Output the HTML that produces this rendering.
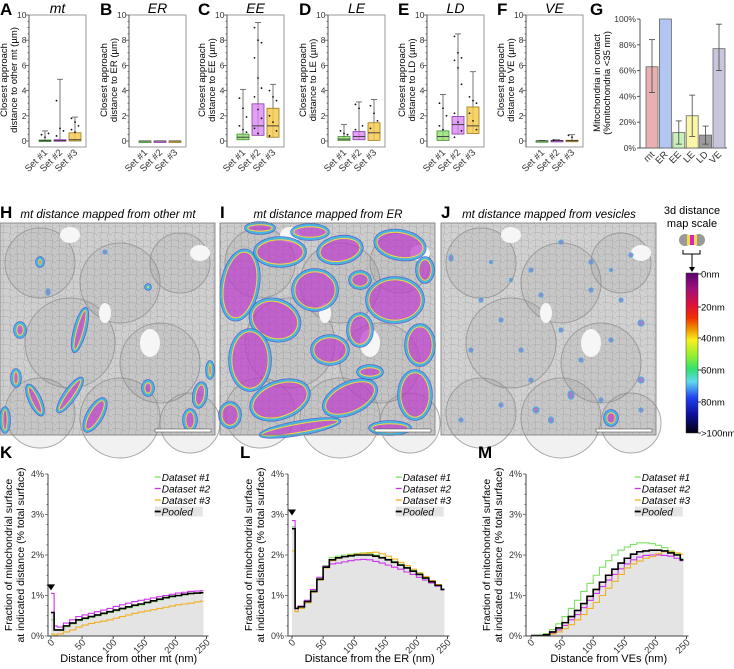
<!DOCTYPE html>
<html><head><meta charset="utf-8"><style>
html,body{margin:0;padding:0;background:#fff;}
svg{display:block;font-family:"Liberation Sans",Arial,sans-serif;}
</style></head><body>
<svg id="fig" width="734" height="669" viewBox="0 0 734 669" xmlns="http://www.w3.org/2000/svg">
<defs>
<linearGradient id="cbar" x1="0" y1="0" x2="0" y2="1">
<stop offset="0" stop-color="#5a0070"/><stop offset="0.1" stop-color="#a0107a"/><stop offset="0.2" stop-color="#e0103a"/><stop offset="0.28" stop-color="#f03000"/><stop offset="0.36" stop-color="#f0a000"/><stop offset="0.42" stop-color="#f8f020"/><stop offset="0.52" stop-color="#90f030"/><stop offset="0.6" stop-color="#30e070"/><stop offset="0.68" stop-color="#60d8f0"/><stop offset="0.78" stop-color="#2040f0"/><stop offset="0.88" stop-color="#1010a0"/><stop offset="1" stop-color="#000010"/>
</linearGradient>
<pattern id="tex" width="14" height="14" patternUnits="userSpaceOnUse">
<rect width="14" height="14" fill="#c8c8c8"/><path d="M0 3 Q7 0 14 5 M0 9 Q6 7 14 11 M3 0 Q5 7 2 14 M10 0 Q12 7 9 14" stroke="#9c9c9c" stroke-width="0.5" fill="none"/>
</pattern>
</defs>
<g id="top-row"></g>
<g id="mid-row"></g>
<g id="bot-row"></g>
</svg>
<script>
// ---------- DATA: box plots (q1, median, q3, max) ----------
const boxSets = ["Set #1","Set #2","Set #3"];
const mtBox = [[0,0.02,0.08,0.8],[0,0.03,0.1,4.9],[0,0.1,0.65,1.9]];
const mtPts = [[0.5,0.3,0.6],[3.2,1.0,0.8,0.4],[1.8,1.5,1.2,0.9,0.7]];
const erBox = [[0,0,0,0],[0,0,0,0],[0,0,0,0]];
const erPts = [[],[],[]];
const eeBox = [[0.1,0.3,0.55,4.1],[0.45,1.2,2.95,9.4],[0.3,1.2,2.6,4.5]];
const eePts = [[3.4,2.6,1.9,1.2,0.9,0.7],[9.0,8.0,7.8,6.6,5.0,4.2,3.5,2.5,1.8,1.0,0.6],[4.0,3.5,3.2,2.0,1.5,0.8,0.4]];
const leBox = [[0.05,0.15,0.35,1.3],[0.1,0.35,0.75,3.1],[0.05,0.65,1.45,3.3]];
const lePts = [[0.8,0.6,0.5],[2.9,2.6,1.2,0.9],[2.8,2.2,1.6,1.0]];
const ldBox = [[0.05,0.35,0.8,3.7],[0.55,1.3,1.95,8.5],[0.6,1.2,2.7,5.5]];
const ldPts = [[3.0,2.6,2.0,1.2,0.9],[8.3,7.0,6.6,6.4,5.8,4.5,2.2,1.5,0.8,0.3],[3.5,3.2,3.0,2.2,1.6,0.9]];
const veBox = [[0,0.01,0.02,0.05],[0,0.02,0.05,0.1],[0,0.02,0.06,0.5]];
const vePts = [[],[0.08],[0.45,0.3]];
const boxTicks = [0,2,4,6,8,10];
// ---------- DATA: bar chart G ----------
const gCats = ["mt","ER","EE","LE","LD","VE"];
const gVals = [63,100,12,25,10,77];
const gLo = [43,100,3,9,3,60];
const gHi = [84,100,21,41,17,96];
const gTicks = [0,20,40,60,80,100];
// ---------- DATA: histograms ----------
const binX = [0,5,10,20,30,40,50,60,70,80,90,100,110,120,130,140,150,160,170,180,190,200,210,220,230,240];
const kPooled=[0.58,0.15,0.15,0.25,0.32,0.40,0.44,0.48,0.52,0.56,0.60,0.64,0.68,0.72,0.76,0.79,0.83,0.87,0.91,0.95,0.98,1.0,1.03,1.05,1.06,1.07];
const kD1=[0.40,0.14,0.14,0.23,0.30,0.38,0.42,0.46,0.50,0.54,0.58,0.62,0.66,0.70,0.74,0.77,0.81,0.85,0.89,0.93,0.96,0.99,1.02,1.04,1.05,1.06];
const kD2=[1.05,0.25,0.22,0.32,0.40,0.48,0.52,0.56,0.60,0.64,0.68,0.73,0.77,0.81,0.85,0.88,0.91,0.94,0.97,1.0,1.03,1.06,1.08,1.1,1.11,1.12];
const kD3=[0.05,0.02,0.05,0.1,0.15,0.22,0.27,0.31,0.34,0.37,0.40,0.44,0.48,0.52,0.56,0.59,0.62,0.65,0.68,0.71,0.74,0.77,0.79,0.81,0.84,0.86];
const lPooled=[2.65,0.68,0.72,0.85,1.1,1.4,1.7,1.88,1.93,1.96,1.98,2.0,2.0,2.0,1.97,1.93,1.88,1.82,1.75,1.68,1.6,1.52,1.43,1.34,1.25,1.15];
const lD1=[2.7,0.68,0.74,0.86,1.12,1.42,1.74,1.93,1.97,2.0,2.02,2.04,2.05,2.04,2.0,1.95,1.9,1.84,1.77,1.7,1.62,1.54,1.45,1.36,1.26,1.16];
const lD2=[2.85,0.68,0.74,0.88,1.15,1.45,1.72,1.78,1.80,1.83,1.86,1.88,1.89,1.88,1.84,1.80,1.75,1.70,1.65,1.58,1.52,1.45,1.38,1.31,1.23,1.14];
const lD3=[2.1,0.6,0.68,0.82,1.08,1.38,1.68,1.86,1.92,1.96,2.0,2.02,2.04,2.06,2.07,2.03,1.97,1.9,1.82,1.74,1.65,1.56,1.47,1.37,1.27,1.15];
const mPooled=[0.01,0.01,0.01,0.03,0.1,0.2,0.33,0.48,0.63,0.8,0.98,1.15,1.33,1.5,1.65,1.8,1.92,2.02,2.08,2.1,2.12,2.12,2.1,2.05,2.0,1.88];
const mD1=[0.01,0.01,0.02,0.06,0.16,0.3,0.48,0.68,0.88,1.1,1.3,1.5,1.7,1.86,2.0,2.12,2.2,2.26,2.3,2.3,2.28,2.24,2.18,2.1,2.02,1.92];
const mD2=[0,0,0.01,0.02,0.07,0.15,0.26,0.4,0.53,0.7,0.88,1.05,1.22,1.38,1.52,1.66,1.78,1.88,1.95,1.99,2.0,2.0,1.99,1.97,1.92,1.86];
const mD3=[0,0,0,0.02,0.05,0.1,0.18,0.28,0.4,0.53,0.68,0.83,1.0,1.18,1.35,1.52,1.68,1.78,1.85,1.92,1.96,2.03,2.08,2.08,2.05,2.02];
const histXTicks=[0,50,100,150,200,250];
const histYTicks=[0,1,2,3,4];
const dsNames=["Dataset #1","Dataset #2","Dataset #3","Pooled"];

const NS="http://www.w3.org/2000/svg";
function mk(parent,tag,attrs,text){const e=document.createElementNS(NS,tag);for(const k in attrs)e.setAttribute(k,attrs[k]);if(text!==undefined)e.textContent=text;parent.appendChild(e);return e;}
const gTop=document.getElementById('top-row'),gMid=document.getElementById('mid-row'),gBot=document.getElementById('bot-row');
const setCols=[{f:"rgba(140,220,100,0.75)",s:"#3f8f2a"},{f:"rgba(215,130,240,0.75)",s:"#8a3aa8"},{f:"rgba(245,200,70,0.8)",s:"#9a7a18"}];

function boxPanel(letter,title,ax,box,pts,ylab2){
  const g=mk(gTop,'g',{});
  
  
  const y0=141,y1=15,w=57;
  const ys=v=>y0-(v/10)*(y0-y1);
  const L=mk(g,'text',{x:ax-29,y:15,'font-size':17,'font-weight':'bold'},letter);
  
  const T=mk(g,'text',{x:ax+w/2,y:13,'font-size':14,'font-style':'italic','text-anchor':'middle'},title);
  
  const yl=mk(g,'text',{transform:`translate(${ax-12},80) rotate(-90)`,'font-size':9.5,'text-anchor':'middle'});
  
  mk(yl,'tspan',{x:0,y:-10},'Closest approach');mk(yl,'tspan',{x:0,y:0},ylab2);
  mk(g,'rect',{x:ax,y:y1,width:w,height:147-y1,fill:'none',stroke:'#999','stroke-width':1});
  mk(g,'line',{x1:ax,y1:y1,x2:ax,y2:147,stroke:'#555','stroke-width':1});
  for(let v=0;v<=10;v+=0.5){mk(g,'line',{x1:ax-(v%2===0?3:1.5),x2:ax,y1:ys(v),y2:ys(v),stroke:'#555','stroke-width':0.8});}
  boxTicks.forEach(v=>{const t=mk(g,'text',{x:ax-2.5,y:ys(v)+3,'font-size':8.5,'text-anchor':'end',fill:'#333'},v);});
  box.forEach((b,i)=>{
    const cx=ax+16+i*15;
    const c=setCols[i];
    mk(g,'line',{x1:cx,x2:cx,y1:ys(b[3]),y2:ys(b[0]),stroke:'#555','stroke-width':0.8});
    mk(g,'line',{x1:cx-3,x2:cx+3,y1:ys(b[3]),y2:ys(b[3]),stroke:'#555','stroke-width':0.8});
    const r=mk(g,'rect',{x:cx-6,y:ys(b[2]),width:12,height:Math.max(1.5,ys(b[0])-ys(b[2])),fill:c.f,stroke:c.s,'stroke-width':0.8});
    
    mk(g,'line',{x1:cx-6,x2:cx+6,y1:ys(b[1]),y2:ys(b[1]),stroke:'#333','stroke-width':0.9});
    pts[i].forEach((p,j)=>{mk(g,'circle',{cx:cx+((j%3)-1)*3.5,cy:ys(p),r:0.9,fill:'#111'});});
    const sl=mk(g,'text',{transform:`translate(${cx+3},153) rotate(-45)`,'font-size':9.5,'text-anchor':'end',fill:'#333'},boxSets[i]);
    
  });
}
boxPanel('A','mt',29,mtBox,mtPts,'distance to other mt (µm)');
boxPanel('B','ER',129,erBox,erPts,'distance to ER (µm)');
boxPanel('C','EE',227,eeBox,eePts,'distance to EE (µm)');
boxPanel('D','LE',328,leBox,lePts,'distance to LE (µm)');
boxPanel('E','LD',427,ldBox,ldPts,'distance to LD (µm)');
boxPanel('F','VE',526,veBox,vePts,'distance to VE (µm)');

// Bar chart G
(function(){
  const g=mk(gTop,'g',{});
  const ax=640,y0=148,y1=19;const ys=v=>y0-(v/100)*(y0-y1);
  mk(g,'text',{x:590,y:15,'font-size':17,'font-weight':'bold'},'G');
  const yl=mk(g,'text',{transform:`translate(${ax-30},83) rotate(-90)`,'font-size':9.5,'text-anchor':'middle'});
  
  mk(yl,'tspan',{x:0,y:-10},'Mitochondria in contact');mk(yl,'tspan',{x:0,y:0},'(%mitochondria <35 nm)');
  mk(g,'line',{x1:ax,x2:ax,y1:y1,y2:y0,stroke:'#555'});mk(g,'line',{x1:ax,x2:727,y1:y0,y2:y0,stroke:'#555'});
  gTicks.forEach(v=>{mk(g,'line',{x1:ax-3,x2:ax,y1:ys(v),y2:ys(v),stroke:'#555'});const t=mk(g,'text',{x:ax-4,y:ys(v)+3,'font-size':8.5,'text-anchor':'end',fill:'#333'},v+'%');});
  const cols=['#e8b0b0','#b3c6f2','#c9f0b8','#fbf5a8','#9c9c9c','#c9c5dd'];
  gCats.forEach((c,i)=>{
    const cx=652+i*13.4;
    const b=mk(g,'rect',{x:cx-6,y:ys(gVals[i]),width:12,height:y0-ys(gVals[i]),fill:cols[i],stroke:'#666','stroke-width':0.8});
    
    if(gHi[i]!==gLo[i]){mk(g,'line',{x1:cx,x2:cx,y1:ys(gHi[i]),y2:ys(gLo[i]),stroke:'#444','stroke-width':0.8});
      [gHi[i],gLo[i]].forEach(v=>mk(g,'line',{x1:cx-3,x2:cx+3,y1:ys(v),y2:ys(v),stroke:'#444','stroke-width':0.8}));}
    const t=mk(g,'text',{transform:`translate(${cx+3},155) rotate(-45)`,'font-size':9.5,'text-anchor':'end',fill:'#333'},c);
    
  });
})();

// Middle images
function blobs(g,list,x0){list.forEach(b=>{
  const [x,y,rx,ry,rot,k]=b;
  const tr=`rotate(${rot} ${x0+x} ${y})`;
  if(k){
    mk(g,'ellipse',{cx:x0+x,cy:y,rx:rx,ry:ry,transform:tr,fill:'rgba(190,60,205,0.75)',stroke:'#3fb8e0','stroke-width':2.2,opacity:0.95});
    mk(g,'ellipse',{cx:x0+x,cy:y,rx:Math.max(0.5,rx-1.8),ry:Math.max(0.5,ry-1.8),transform:tr,fill:'none',stroke:'#e8e040','stroke-width':1});
    mk(g,'ellipse',{cx:x0+x,cy:y,rx:rx+1.4,ry:ry+1.4,transform:tr,fill:'none',stroke:'#4050d0','stroke-width':0.8,opacity:0.8});
  } else {
    mk(g,'ellipse',{cx:x0+x,cy:y,rx:rx,ry:ry,transform:tr,fill:'#a070d0',stroke:'#40a8e0','stroke-width':1.2,opacity:0.85});
  }
});}
function imgPanel(letter,title,x0,bg,blobList,data){
  const g=mk(gMid,'g',{});
  mk(g,'text',{x:x0,y:218,'font-size':17,'font-weight':'bold'},letter);
  mk(g,'text',{x:x0+108,y:218,'font-size':11.5,'font-style':'italic','text-anchor':'middle'},title);
  mk(g,'rect',{x:x0,y:223,width:215,height:212,fill:'url(#tex)'});
  mk(g,'rect',{x:x0,y:223,width:215,height:212,fill:bg});
  [[40,40,35],[120,60,40],[180,40,30],[70,120,45],[160,140,40],[40,190,35],[120,195,40],[190,200,30]].forEach(c=>mk(g,'circle',{cx:x0+c[0],cy:223+c[1],r:c[2],fill:'rgba(110,110,110,0.14)',stroke:'#888','stroke-width':1,opacity:0.7}));
  [[70,12,10,8],[150,120,10,14],[105,90,6,10],[200,30,10,8]].forEach(w=>mk(g,'ellipse',{cx:x0+w[0],cy:223+w[1],rx:w[2],ry:w[3],fill:'#f6f6f6'}));
  const c=mk(g,'g',{});
  blobs(c,blobList,x0);
  mk(g,'rect',{x:x0,y:223,width:215,height:212,fill:'none',stroke:'#777','stroke-width':0.8});
  mk(g,'rect',{x:x0+155,y:429,width:56,height:3,fill:'#fff',stroke:'#555','stroke-width':0.6});
}
imgPanel('H','mt distance mapped from other mt',0,'rgba(235,235,235,0.2)',[
 [80,330,5,22,15,1],[70,395,5,20,35,1],[95,415,7,18,30,1],[35,400,5,16,-25,1],[200,395,6,12,10,1],[16,378,4,8,0,1],[20,330,5,7,0,1],[148,388,5,7,0,1],[48,292,2,3,0,0],[148,287,2,2,0,1],[105,252,2,2,0,0],[40,262,3,4,0,1],[190,420,6,10,0,1],[5,420,4,12,0,1],[210,370,3,8,0,1]
],'image-h');
imgPanel('I','mt distance mapped from ER',220,'rgba(225,225,225,0.2)',[
 [20,285,18,35,10,1],[60,252,25,14,0,1],[120,250,22,13,-10,1],[180,245,25,14,10,1],[95,290,22,20,0,1],[175,300,28,22,0,1],[55,320,25,20,20,1],[140,330,12,16,0,1],[30,360,20,30,0,1],[110,350,18,14,0,1],[200,345,14,20,0,1],[60,400,30,18,-20,1],[130,398,28,15,-25,1],[195,395,16,24,0,1],[80,428,40,6,-10,1],[170,428,20,6,0,1],[10,415,10,12,0,1],[140,280,10,8,0,1],[90,232,18,7,0,1],[40,228,14,5,0,1],[205,270,8,12,0,1],[150,372,12,6,0,1]
],'image-i');
imgPanel('J','mt distance mapped from vesicles',441,'rgba(235,235,235,0.25)',[
 [10,258,2,3,0,0],[50,262,1.5,1.5,0,0],[90,270,2,2,0,0],[150,262,2,2,0,0],[190,255,2,2,0,0],[60,320,2,2,0,0],[120,330,2,2,0,0],[170,340,2,2,0,0],[30,350,2,2,0,0],[200,380,3,3,0,0],[90,380,2,2,0,0],[130,395,3,4,0,0],[170,418,6,7,0,1],[110,420,2.5,3,0,0],[200,410,2,2,0,0],[60,405,2,2,0,0],[150,290,2,2,0,0],[40,300,2,2,0,0],[180,300,2,2,0,0],[100,295,2,2,0,0],[80,350,2,2,0,0],[140,360,2,2,0,0],[20,420,2,2,0,0],[200,323,3,3,0,0],[120,242,2,2,0,0],[170,270,1.5,1.5,0,0],[70,280,1.5,1.5,0,0],[160,400,2,2,0,0],[95,410,3,3,0,0]
],'image-j');

// Color scale
(function(){
  const g=mk(gMid,'g',{});
  mk(g,'text',{x:692,y:214,'font-size':11,'text-anchor':'middle'},'3d distance');
  mk(g,'text',{x:692,y:227,'font-size':11,'text-anchor':'middle'},'map scale');
  mk(g,'ellipse',{cx:685,cy:240,rx:6,ry:6,fill:'#999'});mk(g,'ellipse',{cx:699,cy:240,rx:6,ry:6,fill:'#999'});
  mk(g,'rect',{x:687,y:235,width:10,height:10,fill:'#f0e040'});mk(g,'rect',{x:690,y:235,width:4,height:10,fill:'#e020c0'});
  mk(g,'path',{d:'M683 250 V254 H700 V250 M692 254 V268',stroke:'#000',fill:'none','stroke-width':1});
  mk(g,'path',{d:'M689 267 L695 267 L692 272 Z',fill:'#000'});
  mk(g,'rect',{x:686,y:273,width:12,height:160,fill:'url(#cbar)',stroke:'#333','stroke-width':0.5});
  [['0nm',274],['20nm',307],['40nm',338],['60nm',370],['80nm',402],['>100nm',433]].forEach(t=>{mk(g,'line',{x1:698,x2:701,y1:t[1],y2:t[1],stroke:'#333'});mk(g,'text',{x:701,y:t[1]+3.5,'font-size':9.5},t[0]);});
})();

// Histograms
const dsCols=['#7ee060','#cc33ee','#f0b020','#000'];
function hist(letter,ax,x0px,xlab,series,mark){
  const g=mk(gBot,'g',{});
  const y0=636,y1=474;const ys=v=>y0-(v/4)*(y0-y1);const xs=v=>x0px+v*0.622;
  mk(g,'text',{x:ax-48,y:458,'font-size':17,'font-weight':'bold'},letter);
  const yl=mk(g,'text',{transform:`translate(${ax-24},555) rotate(-90)`,'font-size':10.5,'text-anchor':'middle'});
  
  mk(yl,'tspan',{x:0,y:-12},'Fraction of mitochondrial surface');mk(yl,'tspan',{x:0,y:0},'at indicated distance (% total surface)');
  const pooled=series[3];
  let d=`M${xs(binX[0])} ${y0}`;
  binX.forEach((x,i)=>{const xe=i<binX.length-1?binX[i+1]:245;d+=` L${xs(x)} ${ys(pooled[i])} L${xs(xe)} ${ys(pooled[i])}`;});
  d+=` L${xs(245)} ${y0} Z`;
  const f=mk(g,'path',{d:d,fill:'#e4e4e4'});
  series.forEach((s,k)=>{
    let p='';binX.forEach((x,i)=>{const xe=i<binX.length-1?binX[i+1]:245;p+=(i?' L':'M')+`${xs(x)} ${ys(s[i])} L${xs(xe)} ${ys(s[i])}`;});
    const l=mk(g,'path',{d:p,fill:'none',stroke:dsCols[k],'stroke-width':k===3?1.6:1.1});
    
  });
  mk(g,'line',{x1:ax,x2:ax,y1:y1,y2:y0,stroke:'#444'});mk(g,'line',{x1:ax,x2:xs(250)+2,y1:y0,y2:y0,stroke:'#444'});
  for(let v=0;v<=4;v+=0.25)mk(g,'line',{x1:ax-(v%1===0?3:1.5),x2:ax,y1:ys(v),y2:ys(v),stroke:'#444','stroke-width':0.7});
  histYTicks.forEach(v=>{const t=mk(g,'text',{x:ax-4,y:ys(v)+3,'font-size':9,'text-anchor':'end',fill:'#333'},v+'%');});
  histXTicks.forEach(v=>{mk(g,'line',{x1:xs(v),x2:xs(v),y1:y0,y2:y0+3,stroke:'#444'});const t=mk(g,'text',{transform:`translate(${xs(v)+4},${y0+7}) rotate(-45)`,'font-size':9.5,'text-anchor':'end',fill:'#333'},v);});
  const xt=mk(g,'text',{x:(xs(0)+xs(250))/2,y:662,'font-size':11,'text-anchor':'middle'},xlab);
  if(mark!==null)mk(g,'path',{d:`M${xs(0)-4} ${ys(mark)-5} L${xs(0)+4} ${ys(mark)-5} L${xs(0)} ${ys(mark)+1} Z`,fill:'#000'});
  const lx=xs(170);
  dsNames.forEach((n,k)=>{const yy=477+k*11.5;
    if(k===3)mk(g,'rect',{x:lx-2,y:yy-5,width:48,height:10,fill:'#e4e4e4'});
    mk(g,'line',{x1:lx-2,x2:lx+4,y1:yy,y2:yy,stroke:dsCols[k],'stroke-width':k===3?1.8:1.3});
    const t=mk(g,'text',{x:lx+5,y:yy+4,'font-size':10,'font-style':'italic'},n);});
}
hist('K',48,51,'Distance from other mt (nm)',[kD1,kD2,kD3,kPooled],1.15);
hist('L',288,292,'Distance from the ER (nm)',[lD1,lD2,lD3,lPooled],3.0);
hist('M',526,531,'Distance from VEs (nm)',[mD1,mD2,mD3,mPooled],null);
</script>
</body></html>
